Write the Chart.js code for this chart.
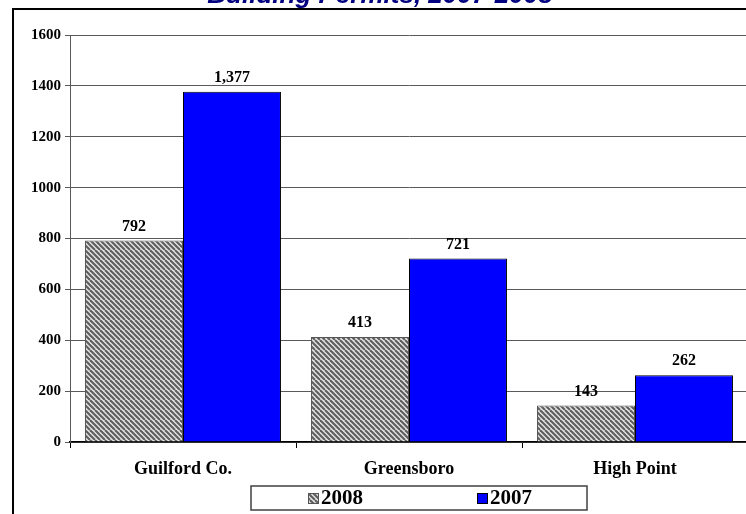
<!DOCTYPE html>
<html>
<head>
<meta charset="utf-8">
<script src="https://cdn.jsdelivr.net/npm/chart.js@4"></script>
<style>
  html, body { margin: 0; padding: 0; background: #fff; overflow: hidden; }
  #wrap { position: relative; width: 760px; height: 514px; }
</style>
</head>
<body>
<div id="wrap"><canvas id="permitChart" width="760" height="514"></canvas></div>
<script>
  const categories = ["Guilford Co.", "Greensboro", "High Point"];
  const seriesNames = ["2008", "2007"];
  const permits2008 = [792, 413, 143];
  const permits2007 = [1377, 721, 262];
  const yTicks = [0, 200, 400, 600, 800, 1000, 1200, 1400, 1600];
  const chartTitle = "Building Permits, 2007-2008";

  const SERIF = "'Liberation Serif', 'Times New Roman', serif";

  // diagonal hatch for the 2008 bars
  const hatchCanvas = document.createElement("canvas");
  hatchCanvas.width = 10;
  hatchCanvas.height = 10;
  const hctx = hatchCanvas.getContext("2d");
  hctx.fillStyle = "#e4e4e4";
  hctx.fillRect(0, 0, 10, 10);
  hctx.strokeStyle = "#5e5e5e";
  hctx.lineWidth = 2.1;
  for (const o of [-10, -5, 0, 5, 10]) {
    hctx.beginPath();
    hctx.moveTo(o, 0);
    hctx.lineTo(o + 10, 10);
    hctx.stroke();
  }
  const ctx = document.getElementById("permitChart").getContext("2d");
  const hatch = ctx.createPattern(hatchCanvas, "repeat");

  const framePlugin = {
    id: "frame",
    beforeDraw(chart) {
      const c = chart.ctx;
      c.save();
      c.strokeStyle = "#000";
      c.lineWidth = 2;
      c.strokeRect(13, 9, 900, 700);
      // title, cut off at the top like the original
      c.fillStyle = "#000080";
      c.font = "italic bold 26px 'Liberation Sans', Arial, sans-serif";
      c.textAlign = "center";
      c.textBaseline = "alphabetic";
      c.fillText(chartTitle, 380, 3);
      c.restore();
    }
  };

  const valueLabels = {
    id: "valueLabels",
    afterDatasetsDraw(chart) {
      const c = chart.ctx;
      c.save();
      c.fillStyle = "#000";
      c.font = "bold 16px " + SERIF;
      c.textAlign = "center";
      c.textBaseline = "alphabetic";
      chart.data.datasets.forEach((ds, i) => {
        chart.getDatasetMeta(i).data.forEach((bar, j) => {
          c.fillText(ds.data[j].toLocaleString("en-US"), bar.x, bar.y - 10);
        });
      });
      c.restore();
    }
  };

  const boxLegend = {
    id: "boxLegend",
    afterDraw(chart) {
      const c = chart.ctx;
      c.save();
      c.strokeStyle = "#404040";
      c.lineWidth = 1.5;
      c.strokeRect(251, 486, 336, 24);
      const spots = [308, 477];
      c.font = "bold 21px " + SERIF;
      c.textBaseline = "middle";
      c.textAlign = "left";
      chart.data.datasets.forEach((ds, i) => {
        const x = spots[i];
        c.fillStyle = ds.backgroundColor;
        c.fillRect(x, 493, 11, 11);
        c.strokeStyle = ds.borderColor;
        c.lineWidth = 1;
        c.strokeRect(x + 0.5, 493.5, 10, 10);
        c.fillStyle = "#000";
        c.fillText(ds.label, x + 13, 499);
      });
      c.restore();
    }
  };

  new Chart(ctx, {
    type: "bar",
    data: {
      labels: categories,
      datasets: [
        {
          label: seriesNames[0],
          data: permits2008,
          backgroundColor: hatch,
          borderColor: "#555555",
          borderWidth: 1,
          categoryPercentage: 0.867,
          barPercentage: 1
        },
        {
          label: seriesNames[1],
          data: permits2007,
          backgroundColor: "#0000ff",
          borderColor: "#000000",
          borderWidth: 1,
          categoryPercentage: 0.867,
          barPercentage: 1
        }
      ]
    },
    options: {
      responsive: false,
      animation: false,
      layout: { padding: { top: 35, right: 12, left: 0, bottom: 0 } },
      scales: {
        x: {
          offset: true,
          grid: {
            offset: true,
            drawOnChartArea: false,
            drawTicks: true,
            tickLength: 6,
            color: "#000"
          },
          border: { color: "#000", width: 1.5 },
          ticks: {
            color: "#000",
            padding: 11,
            font: { family: SERIF, size: 18, weight: "bold" }
          },
          afterFit(scale) { scale.height = 72; }
        },
        y: {
          min: 0,
          max: 1600,
          afterBuildTicks(scale) { scale.ticks = yTicks.map(v => ({ value: v })); },
          grid: { color: "#5a5a5a", tickLength: 5 },
          border: { color: "#5a5a5a" },
          ticks: {
            color: "#000",
            padding: 4,
            callback: v => String(v),
            font: { family: SERIF, size: 15, weight: "bold" }
          },
          afterFit(scale) { scale.width = 70; }
        }
      },
      plugins: {
        legend: { display: false },
        tooltip: { enabled: false },
        title: { display: false }
      }
    },
    plugins: [framePlugin, valueLabels, boxLegend]
  });
</script>
</body>
</html>
